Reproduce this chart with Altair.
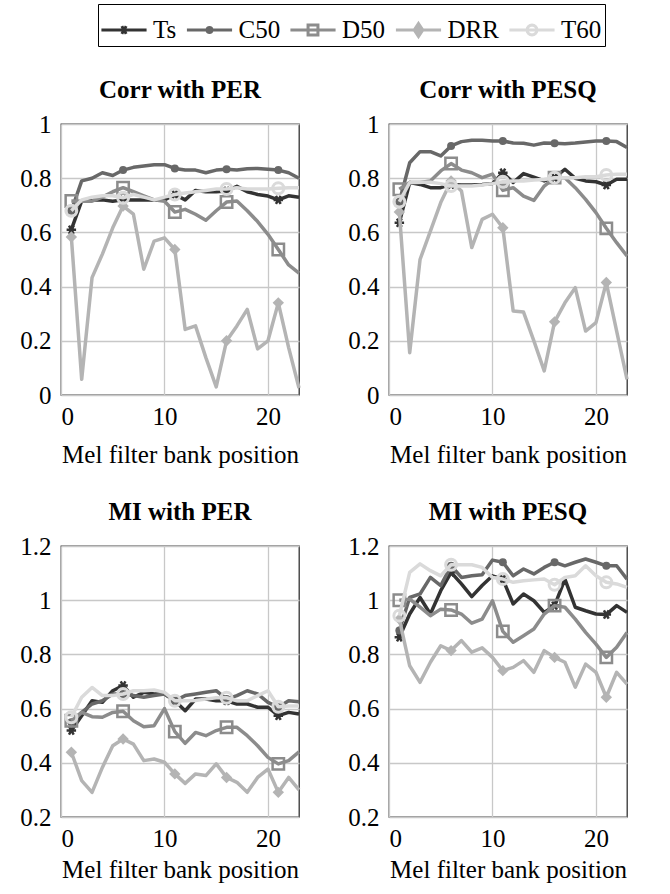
import math
import altair as alt
import pandas as pd

# ---------------- data ----------------
x_pos = list(range(1, 24))
series_names = ["Ts", "C50", "D50", "DRR", "T60"]
series_colors = ["#333333", "#686868", "#8c8c8c", "#b4b4b4", "#dadada"]
panel_titles = ["Corr with PER", "Corr with PESQ", "MI with PER", "MI with PESQ"]
x_ticks = [0, 10, 20]
corr_ticks = [0, 0.2, 0.4, 0.6, 0.8, 1]
mi_ticks = [0.2, 0.4, 0.6, 0.8, 1, 1.2]

corr_per_ts = [0.61, 0.716, 0.72, 0.72, 0.715, 0.72, 0.72, 0.72, 0.72, 0.72, 0.74, 0.72, 0.755, 0.75, 0.75, 0.753, 0.77, 0.75, 0.74, 0.734, 0.72, 0.735, 0.73]
corr_per_c50 = [0.68, 0.79, 0.80, 0.82, 0.81, 0.83, 0.84, 0.845, 0.85, 0.85, 0.836, 0.83, 0.83, 0.82, 0.83, 0.833, 0.83, 0.835, 0.836, 0.833, 0.83, 0.82, 0.80]
corr_per_d50 = [0.716, 0.715, 0.715, 0.73, 0.75, 0.765, 0.75, 0.735, 0.72, 0.715, 0.675, 0.685, 0.667, 0.645, 0.68, 0.712, 0.716, 0.68, 0.64, 0.593, 0.537, 0.48, 0.45]
corr_per_drr = [0.583, 0.058, 0.433, 0.52, 0.617, 0.697, 0.667, 0.464, 0.568, 0.58, 0.537, 0.242, 0.255, 0.138, 0.03, 0.2, 0.255, 0.316, 0.17, 0.2, 0.34, 0.175, 0.026]
corr_per_t60 = [0.68, 0.72, 0.73, 0.735, 0.735, 0.728, 0.74, 0.73, 0.72, 0.73, 0.74, 0.745, 0.75, 0.755, 0.76, 0.76, 0.765, 0.76, 0.76, 0.76, 0.763, 0.765, 0.765]

corr_pesq_ts = [0.636, 0.784, 0.777, 0.765, 0.765, 0.777, 0.775, 0.775, 0.777, 0.78, 0.82, 0.784, 0.817, 0.804, 0.79, 0.802, 0.833, 0.80, 0.79, 0.787, 0.775, 0.796, 0.796]
corr_pesq_c50 = [0.713, 0.857, 0.898, 0.898, 0.882, 0.919, 0.935, 0.94, 0.94, 0.937, 0.937, 0.93, 0.929, 0.922, 0.93, 0.929, 0.927, 0.93, 0.934, 0.937, 0.937, 0.935, 0.913]
corr_pesq_d50 = [0.759, 0.784, 0.784, 0.79, 0.827, 0.854, 0.83, 0.82, 0.802, 0.815, 0.755, 0.765, 0.734, 0.718, 0.771, 0.802, 0.802, 0.765, 0.722, 0.673, 0.615, 0.562, 0.513]
corr_pesq_drr = [0.675, 0.156, 0.50, 0.605, 0.71, 0.79, 0.753, 0.544, 0.648, 0.667, 0.617, 0.31, 0.306, 0.2, 0.089, 0.27, 0.34, 0.396, 0.236, 0.267, 0.415, 0.236, 0.058]
corr_pesq_t60 = [0.713, 0.784, 0.785, 0.785, 0.78, 0.771, 0.771, 0.771, 0.775, 0.78, 0.787, 0.79, 0.79, 0.793, 0.795, 0.802, 0.802, 0.802, 0.805, 0.805, 0.812, 0.815, 0.815]

mi_per_ts = [0.519, 0.574, 0.629, 0.623, 0.666, 0.685, 0.642, 0.66, 0.654, 0.654, 0.629, 0.592, 0.635, 0.635, 0.629, 0.629, 0.617, 0.617, 0.605, 0.605, 0.574, 0.586, 0.58]
mi_per_c50 = [0.55, 0.586, 0.617, 0.629, 0.654, 0.654, 0.648, 0.642, 0.648, 0.654, 0.629, 0.648, 0.654, 0.66, 0.666, 0.635, 0.648, 0.666, 0.654, 0.623, 0.605, 0.629, 0.625]
mi_per_d50 = [0.555, 0.586, 0.57, 0.568, 0.586, 0.59, 0.555, 0.533, 0.537, 0.6, 0.515, 0.472, 0.512, 0.5, 0.519, 0.531, 0.531, 0.5, 0.463, 0.42, 0.396, 0.408, 0.44]
mi_per_drr = [0.439, 0.334, 0.291, 0.383, 0.463, 0.488, 0.469, 0.408, 0.414, 0.402, 0.359, 0.324, 0.359, 0.353, 0.396, 0.346, 0.328, 0.291, 0.346, 0.377, 0.291, 0.346, 0.30]
mi_per_t60 = [0.568, 0.642, 0.678, 0.648, 0.648, 0.654, 0.666, 0.666, 0.669, 0.66, 0.629, 0.629, 0.63, 0.635, 0.64, 0.64, 0.629, 0.629, 0.648, 0.666, 0.607, 0.61, 0.61]

mi_pesq_ts = [0.863, 0.949, 1.01, 0.949, 1.035, 1.103, 1.06, 1.013, 1.054, 1.09, 1.078, 0.986, 1.023, 0.998, 0.955, 0.98, 1.078, 0.974, 0.961, 0.949, 0.947, 0.98, 0.955]
mi_pesq_c50 = [0.888, 1.01, 1.023, 1.084, 1.054, 1.127, 1.084, 1.09, 1.094, 1.148, 1.14, 1.09, 1.115, 1.097, 1.121, 1.14, 1.127, 1.14, 1.152, 1.14, 1.127, 1.127, 1.078]
mi_pesq_d50 = [1.0, 1.004, 0.974, 0.943, 0.967, 0.964, 0.949, 0.915, 0.93, 0.998, 0.885, 0.845, 0.869, 0.894, 0.949, 0.98, 0.974, 0.93, 0.881, 0.838, 0.789, 0.826, 0.881]
mi_pesq_drr = [0.93, 0.758, 0.697, 0.771, 0.832, 0.814, 0.851, 0.808, 0.824, 0.789, 0.74, 0.752, 0.777, 0.734, 0.814, 0.789, 0.771, 0.679, 0.764, 0.734, 0.642, 0.734, 0.69]
mi_pesq_t60 = [0.943, 1.103, 1.134, 1.109, 1.09, 1.131, 1.131, 1.131, 1.121, 1.084, 1.078, 1.066, 1.072, 1.075, 1.078, 1.057, 1.084, 1.09, 1.127, 1.09, 1.066, 1.06, 1.047]

panel_values = [
    [corr_per_ts, corr_per_c50, corr_per_d50, corr_per_drr, corr_per_t60],
    [corr_pesq_ts, corr_pesq_c50, corr_pesq_d50, corr_pesq_drr, corr_pesq_t60],
    [mi_per_ts, mi_per_c50, mi_per_d50, mi_per_drr, mi_per_t60],
    [mi_pesq_ts, mi_pesq_c50, mi_pesq_d50, mi_pesq_drr, mi_pesq_t60],
]
panel_domains = [[0, 1], [0, 1], [0.2, 1.2], [0.2, 1.2]]
panel_ticks = [corr_ticks, corr_ticks, mi_ticks, mi_ticks]
panel_title_pad = [13, 13, 6, 6]

# ---------------- style ----------------
FONT = "Liberation Serif, Times New Roman, Times, serif"
FS = 25
W, H = 238, 271
LINE_W = 3.5

ASTER = "M-1,0L1,0M-0.5,-0.866L0.5,0.866M-0.5,0.866L0.5,-0.866"
marker_style = {
    "Ts": dict(shape=ASTER, filled=False, size=90, strokeWidth=2.5),
    "C50": dict(shape="circle", filled=True, size=64),
    "D50": dict(shape="square", filled=False, size=130, strokeWidth=2.5),
    "DRR": dict(shape="diamond", filled=True, size=130),
    "T60": dict(shape="circle", filled=False, size=120, strokeWidth=3),
}


def ring(r, n=16):
    pts = [(r * math.cos(2 * math.pi * k / n), r * math.sin(2 * math.pi * k / n)) for k in range(n)]
    return "M" + "L".join(f"{a:.3f},{b:.3f}" for a, b in pts) + "Z"


def diamond(hx, hy):
    return f"M0,{-hy}L{hx},0L0,{hy}L{-hx},0Z"


LEG_LINE = "M-1.05,0L1.05,0"
legend_paths = [
    LEG_LINE + "M-0.2,0L0.2,0M-0.1,-0.18L0.1,0.18M-0.1,0.18L0.1,-0.18",
    LEG_LINE + ring(0.12) + ring(0.05, 8),
    LEG_LINE + "M-0.23,-0.23H0.23V0.23H-0.23Z",
    LEG_LINE + diamond(0.2, 0.3) + diamond(0.09, 0.14),
    LEG_LINE + ring(0.23),
]


def make_panel(i, with_legend=False):
    rows = []
    for s, vals in zip(series_names, panel_values[i]):
        for xv, yv in zip(x_pos, vals):
            rows.append({"series": s, "x": xv, "y": yv})
    df = pd.DataFrame(rows)
    base = alt.Chart(df)
    xenc = alt.X(
        "x:Q",
        scale=alt.Scale(domain=[0, 23], nice=False, zero=False),
        axis=alt.Axis(values=x_ticks, title="Mel filter bank position", labelPadding=9,
                      titlePadding=panel_title_pad[i], format="d", labelFont=FONT, labelFontSize=FS,
                      titleFont=FONT, titleFontSize=FS),
    )
    yenc = alt.Y(
        "y:Q",
        scale=alt.Scale(domain=panel_domains[i], nice=False, zero=False),
        axis=alt.Axis(values=panel_ticks[i], title=None, format="~g", labelPadding=10,
                      minExtent=45, maxExtent=45, labelFont=FONT, labelFontSize=FS),
    )
    layers = []
    for s, c in zip(series_names, series_colors):
        sub = base.transform_filter(alt.datum.series == s)
        layers.append(sub.mark_line(color=c, strokeWidth=LINE_W, strokeJoin="round").encode(x=xenc, y=yenc))
        st = marker_style[s]
        mk = dict(color=c, shape=st["shape"], filled=st["filled"], size=st["size"], opacity=1)
        if "strokeWidth" in st:
            mk["strokeWidth"] = st["strokeWidth"]
        layers.append(
            sub.transform_filter("(datum.x - 1) % 5 == 0").mark_point(**mk).encode(x=xenc, y=yenc)
        )
    if with_legend:
        leg = alt.Legend(
            title=None, orient="none", legendX=37, legendY=-120, direction="horizontal",
            columns=5, symbolSize=1849, symbolStrokeWidth=3, labelFont=FONT, labelFontSize=FS,
            labelColor="black", labelOffset=6, columnPadding=3.5, padding=3,
            strokeColor="black", cornerRadius=0, symbolOpacity=1,
        )
        layers.append(
            base.transform_filter("false").mark_point(filled=False).encode(
                x=xenc, y=yenc,
                color=alt.Color("series:N", scale=alt.Scale(domain=series_names, range=series_colors), legend=leg),
                shape=alt.Shape("series:N", scale=alt.Scale(domain=series_names, range=legend_paths), legend=leg),
            )
        )
    return alt.layer(*layers).properties(
        width=W, height=H,
        title=alt.TitleParams(panel_titles[i], font=FONT, fontSize=FS, fontWeight="bold",
                              anchor="middle", frame="group", offset=9, color="black"),
    )


panels = [make_panel(0, with_legend=True), make_panel(1), make_panel(2), make_panel(3)]

chart = (
    alt.concat(*panels, columns=2, spacing={"row": 151, "column": 90}, bounds="flush")
    .properties(padding={"left": 15, "top": 3, "right": 20, "bottom": 3}, background="white")
    .configure_view(stroke="#333333", strokeWidth=1.3)
    .configure_axis(
        labelFont=FONT, labelFontSize=FS, labelColor="black",
        titleFont=FONT, titleFontSize=FS, titleFontWeight="normal", titleColor="black",
        gridColor="#c8c8c8", gridWidth=1.3, domain=False, ticks=False, tickSize=0,
    )
    .configure_legend(labelFont=FONT, labelFontSize=FS)
)

chart.save("out.html", embed_options={"renderer": "svg", "actions": False})
